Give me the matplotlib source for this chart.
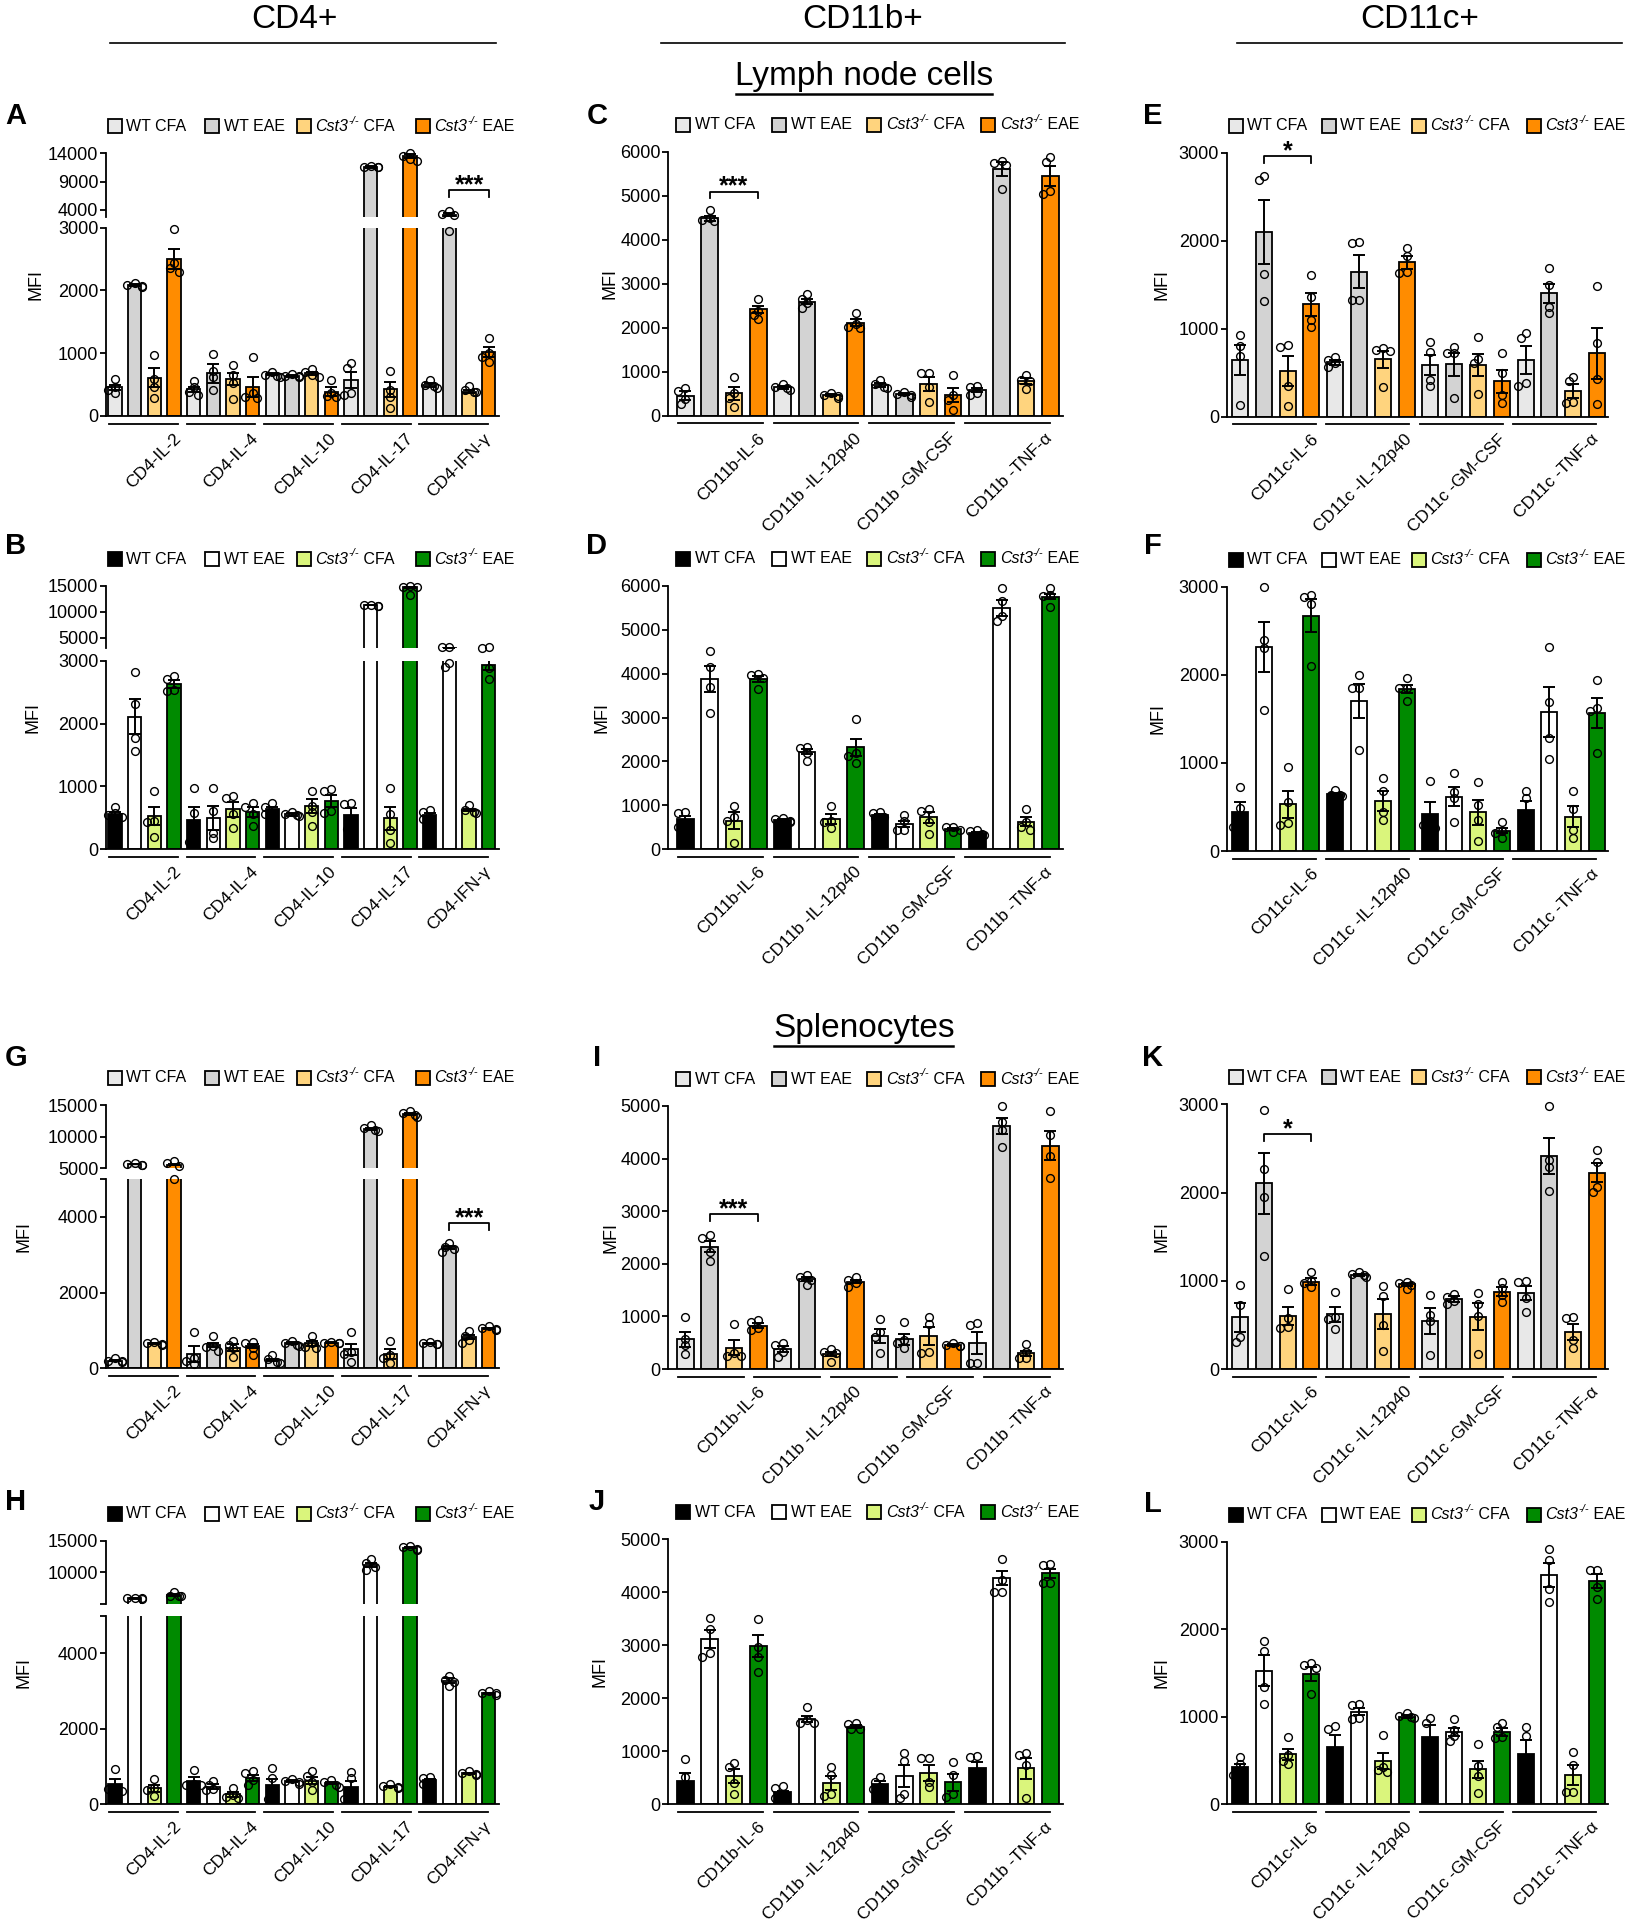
import numpy as np
import matplotlib.pyplot as plt
from matplotlib.patches import Rectangle

plt.rcParams["font.family"] = ["Liberation Sans", "DejaVu Sans"]

W, H = 1642, 1920

# groups and labels (Cst3 name is split into italic gene + superscript)
groups = [("WT CFA", None), ("WT EAE", None), ("Cst3", " CFA"), ("Cst3", " EAE")]
cd4_labels = ["CD4-IL-2", "CD4-IL-4", "CD4-IL-10", "CD4-IL-17", "CD4-IFN-γ"]
cd11b_labels = ["CD11b-IL-6", "CD11b -IL-12p40", "CD11b -GM-CSF", "CD11b -TNF-α"]
cd11c_labels = ["CD11c-IL-6", "CD11c -IL-12p40", "CD11c -GM-CSF", "CD11c -TNF-α"]

orange_cols = ["#e8e8e8", "#d3d3d3", "#ffd47e", "#ff8c00"]
green_cols = ["#000000", "#ffffff", "#daf57c", "#008a00"]

# ---- Lymph node cells ----
A_mean = [[457, 2087, 611, 2501], [425, 680, 584, 467], [669, 637, 680, 388],
          [573, 11633, 425, 13523], [494, 3200, 388, 1025]]
A_sem = [[40, 15, 150, 160], [35, 150, 95, 160], [20, 10, 20, 70],
         [130, 150, 120, 300], [25, 250, 20, 80]]
A_pts = [
    [[584, 467, 414, 361], [2113, 2087, 2071, 2060], [972, 584, 467, 292], [2974, 2432, 2352, 2299]],
    [[558, 457, 388, 335], [982, 720, 620, 420], [812, 648, 520, 271], [935, 361, 308, 292]],
    [[706, 653, 637, 627], [669, 640, 630, 620], [743, 706, 653, 627], [573, 372, 318, 308]],
    [[850, 770, 361, 335], [11800, 11600, 11500, 11500], [717, 414, 308, 122], [14000, 13600, 13000, 12650]],
    [[573, 494, 470, 441], [3800, 3300, 3100, 2950], [478, 414, 390, 380], [1237, 998, 945, 866]],
]

B_mean = [[556, 2109, 530, 2629], [466, 493, 636, 599], [636, 556, 694, 768],
          [546, 11346, 493, 14870], [546, 3050, 625, 2931]]
B_sem = [[30, 280, 150, 60], [200, 190, 120, 80], [40, 25, 110, 100],
         [110, 80, 180, 200], [30, 90, 20, 80]]
B_pts = [
    [[680, 570, 545, 520], [2814, 2305, 1775, 1563], [927, 450, 440, 191], [2756, 2708, 2533, 2518]],
    [[980, 570, 200, 120], [980, 610, 265, 175], [848, 811, 556, 334], [731, 678, 556, 371]],
    [[731, 678, 570, 560], [599, 560, 540, 530], [927, 694, 599, 371], [959, 927, 610, 572]],
    [[742, 715, 400, 330], [11400, 11300, 11200, 11100], [980, 556, 307, 95], [14950, 14900, 14850, 13300]],
    [[625, 599, 500, 480], [3250, 3250, 2970, 2900], [705, 625, 600, 580], [3200, 3010, 2878, 2708]],
]

C_mean = [[455, 4485, 508, 2417], [644, 2591, 470, 2114], [697, 492, 720, 470], [583, 5606, 788, 5447]]
C_sem = [[100, 50, 140, 80], [30, 60, 20, 80], [40, 20, 160, 160], [40, 150, 60, 220]]
C_pts = [
    [[620, 560, 380, 270], [4670, 4500, 4450, 4420], [886, 508, 394, 205], [2644, 2386, 2288, 2197]],
    [[712, 650, 630, 583], [2758, 2644, 2553, 2439], [508, 475, 450, 394], [2341, 2083, 2023, 2000]],
    [[811, 720, 659, 621], [545, 500, 470, 432], [962, 962, 644, 303], [924, 470, 356, 129]],
    [[674, 644, 508, 470], [5790, 5750, 5700, 5150], [924, 811, 790, 598], [5871, 5773, 5114, 5038]],
]

D_mean = [[683, 3876, 652, 3876], [667, 2222, 683, 2321], [781, 576, 728, 463], [379, 5484, 630, 5749]]
D_sem = [[80, 300, 200, 60], [15, 60, 110, 200], [20, 60, 120, 30], [20, 180, 100, 60]]
D_pts = [
    [[857, 819, 550, 500], [4513, 4157, 3686, 3095], [994, 728, 652, 137], [3982, 3967, 3900, 3648]],
    [[705, 690, 640, 630], [2336, 2298, 2184, 2018], [994, 645, 614, 478], [2966, 2184, 2131, 1972]],
    [[842, 835, 730, 720], [781, 652, 440, 440], [918, 872, 630, 349], [516, 500, 440, 387]],
    [[440, 417, 340, 330], [5954, 5651, 5310, 5196], [918, 614, 516, 440], [5954, 5788, 5765, 5522]],
]

E_mean = [[644, 2095, 519, 1277], [617, 1648, 652, 1754], [587, 598, 587, 405], [644, 1402, 292, 720]]
E_sem = [[170, 365, 170, 130], [25, 190, 100, 70], [110, 130, 130, 130], [160, 110, 80, 290]]
E_pts = [
    [[928, 803, 689, 133], [2739, 2689, 1621, 1318], [814, 795, 348, 125], [1610, 1364, 1099, 1023]],
    [[674, 644, 606, 568], [1989, 1970, 1326, 1326], [777, 758, 750, 333], [1921, 1826, 1640, 1629]],
    [[852, 739, 417, 348], [788, 720, 720, 208], [902, 652, 606, 258], [720, 500, 246, 152]],
    [[955, 898, 379, 348], [1686, 1496, 1250, 1174], [455, 409, 163, 159], [1485, 841, 424, 140]],
]

F_mean = [[446, 2319, 530, 2671], [647, 1706, 567, 1838], [420, 617, 439, 231], [465, 1581, 390, 1562]]
F_sem = [[110, 285, 150, 190], [10, 195, 110, 45], [140, 110, 140, 30], [100, 285, 120, 170]]
F_pts = [
    [[730, 484, 300, 270], [2992, 2395, 2300, 1600], [957, 560, 320, 300], [2905, 2886, 2803, 2100]],
    [[692, 640, 630, 625], [1997, 1846, 1846, 1146], [825, 681, 446, 352], [1960, 1854, 1846, 1702]],
    [[798, 320, 300, 260], [881, 673, 598, 333], [779, 522, 352, 113], [325, 227, 200, 144]],
    [[681, 605, 330, 250], [2311, 1695, 1279, 1040], [681, 477, 238, 151], [1941, 1619, 1589, 1108]],
]

# ---- Splenocytes ----
G_mean = [[202, 5684, 659, 5550], [378, 615, 545, 589], [220, 659, 659, 677],
          [501, 11210, 378, 13579], [659, 3191, 835, 1055]]
G_sem = [[20, 50, 15, 60], [200, 60, 90, 60], [30, 30, 60, 15],
         [150, 100, 120, 150], [20, 40, 50, 20]]
G_pts = [
    [[264, 200, 180, 160], [5900, 5750, 5600, 5450], [703, 677, 650, 610], [6100, 5800, 5300, 5000]],
    [[967, 260, 180, 110], [850, 600, 560, 460], [720, 620, 530, 310], [703, 677, 527, 352]],
    [[352, 237, 176, 132], [730, 659, 620, 590], [853, 659, 571, 527], [700, 680, 665, 660]],
    [[967, 440, 378, 176], [11800, 11300, 11100, 10900], [730, 352, 264, 132], [14050, 13750, 13400, 13100]],
    [[690, 670, 645, 630], [3314, 3210, 3140, 3077], [985, 853, 747, 659], [1116, 1060, 1030, 1010]],
]

H_mean = [[530, 5895, 424, 6421], [618, 468, 265, 689], [512, 618, 627, 556],
          [468, 11158, 468, 13895], [645, 3276, 821, 2940]]
H_sem = [[130, 40, 90, 120], [100, 60, 60, 80], [150, 30, 100, 30],
         [160, 300, 20, 80], [30, 60, 20, 20]]
H_pts = [
    [[936, 430, 400, 350], [5950, 5900, 5880, 5850], [671, 420, 380, 230], [6900, 6300, 6250, 6200]],
    [[909, 550, 510, 500], [618, 512, 406, 380], [442, 250, 200, 160], [883, 821, 645, 512]],
    [[971, 689, 250, 150], [671, 620, 600, 530], [883, 751, 583, 380], [645, 583, 512, 468]],
    [[848, 689, 200, 140], [12105, 11421, 10895, 10368], [530, 480, 450, 420], [14200, 14050, 13700, 13600]],
    [[733, 706, 560, 540], [3400, 3300, 3250, 3143], [883, 821, 800, 780], [3002, 2960, 2940, 2900]],
]

I_mean = [[564, 2326, 406, 824], [374, 1705, 285, 1660], [627, 564, 627, 456], [488, 4620, 298, 4246]]
I_sem = [[140, 100, 140, 50], [60, 40, 40, 30], [130, 110, 180, 20], [210, 160, 50, 280]]
I_pts = [
    [[995, 564, 456, 285], [2547, 2484, 2231, 2060], [849, 298, 247, 247], [932, 900, 773, 741]],
    [[488, 456, 330, 230], [1787, 1755, 1692, 1597], [374, 330, 298, 139], [1755, 1692, 1629, 1565]],
    [[944, 710, 615, 311], [900, 551, 488, 393], [995, 855, 330, 298], [488, 456, 440, 430]],
    [[881, 837, 120, 108], [5000, 4702, 4544, 4214], [475, 330, 203, 203], [4905, 4449, 4049, 3625]],
]

J_mean = [[447, 3113, 535, 2987], [226, 1604, 396, 1465], [384, 535, 597, 415], [679, 4264, 679, 4358]]
J_sem = [[150, 170, 140, 200], [30, 60, 130, 30], [50, 210, 150, 160], [120, 130, 200, 90]]
J_pts = [
    [[849, 522, 250, 170], [3509, 3302, 2849, 2786], [786, 711, 396, 195], [3490, 2975, 2786, 2503]],
    [[346, 302, 140, 120], [1843, 1591, 1528, 1528], [698, 553, 195, 157], [1528, 1510, 1430, 1415]],
    [[509, 428, 320, 280], [975, 824, 195, 113], [880, 868, 428, 321], [805, 553, 195, 145]],
    [[912, 887, 500, 420], [4622, 4233, 4012, 4012], [962, 931, 742, 113], [4534, 4515, 4182, 4182]],
]

K_mean = [[586, 2104, 601, 990], [620, 1065, 620, 960], [544, 793, 593, 877], [858, 2414, 423, 2225]]
K_sem = [[165, 345, 105, 40], [85, 15, 170, 20], [145, 30, 155, 50], [80, 200, 90, 110]]
K_pts = [
    [[952, 725, 359, 310], [2936, 2263, 1953, 1281], [907, 574, 472, 461], [1096, 1001, 971, 933]],
    [[877, 593, 563, 450], [1103, 1080, 1060, 1039], [941, 827, 499, 204], [990, 975, 950, 903]],
    [[839, 612, 548, 159], [850, 820, 774, 737], [865, 740, 600, 170], [990, 920, 840, 760]],
    [[1001, 990, 801, 650], [2981, 2369, 2293, 2021], [593, 574, 329, 234], [2482, 2350, 2059, 2010]],
]

L_mean = [[430, 1527, 571, 1489], [651, 1058, 495, 1001], [765, 830, 400, 830], [575, 2619, 335, 2555]]
L_sem = [[35, 175, 65, 85], [135, 40, 90, 15], [140, 45, 100, 45], [160, 140, 110, 80]]
L_pts = [
    [[544, 461, 370, 340], [1869, 1755, 1344, 1143], [765, 560, 500, 460], [1610, 1591, 1553, 1260]],
    [[895, 857, 450, 400], [1146, 1134, 982, 971], [792, 430, 390, 370], [1047, 1010, 995, 985]],
    [[982, 933, 650, 500], [971, 850, 780, 720], [689, 438, 324, 133], [933, 879, 773, 754]],
    [[879, 780, 400, 240], [2916, 2791, 2456, 2315], [602, 449, 145, 145], [2676, 2676, 2486, 2341]],
]


fig = plt.figure(figsize=(W / 100, H / 100), dpi=100)

# overlay in pixel coordinates (y down) for headers, legends and labels
ov = fig.add_axes([0, 0, 1, 1])
ov.set_xlim(0, W)
ov.set_ylim(H, 0)
ov.axis("off")

LW = 1.3


def spread(ypx, step_px, d=7.5):
    """Nudge overlapping dots sideways, column-scatter style."""
    placed, out = [], []
    for y in ypx:
        for k in (0, -1, 1, -1.6, 1.6):
            x = k * d * 0.6
            if all((x - a) ** 2 + (y - b) ** 2 >= (0.75 * d) ** 2 for a, b in placed):
                break
        placed.append((x, y))
        out.append(x / step_px)
    return out


def legend_entry(x, y, col, name):
    ov.add_patch(Rectangle((x, y - 7), 14, 14, facecolor=col, edgecolor="black", lw=LW))
    if name[1] is None:
        ov.text(x + 18.5, y, name[0], ha="left", va="center", fontsize=11.5)
        return
    t1 = ov.text(x + 18.5, y, name[0], ha="left", va="center", fontsize=11.5, style="italic")
    t2 = ov.annotate("-/-", xy=(1, 0.55), xycoords=t1, ha="left", va="bottom",
                     fontsize=8, style="italic")
    ov.annotate(name[1], xy=(1, 0), xycoords=(t2, t1), ha="left", va="bottom", fontsize=11.5)


def draw_panel(letter, letter_xy, means, sems, pts, labels, cols, left, right,
               first, step, segs, mfi_x, leg_dx, n_lines=None, sig=None):
    n = len(means) * 4
    mean = np.ravel(means)
    sem = np.ravel(sems)
    dots = [g for cat in pts for g in cat]
    xs = np.arange(n)
    colors = cols * len(means)
    xlim = ((left - first) / step, (right - first) / step)

    axes = []
    for i, seg in enumerate(segs):
        bot, top, lo, hi, ticks = seg[:5]
        tlabels = seg[5] if len(seg) > 5 else [str(t) for t in ticks]
        ax = fig.add_axes([left / W, 1 - bot / H, (right - left) / W, (bot - top) / H])
        ax.set_xlim(*xlim)
        ax.set_ylim(lo, hi)
        ax.bar(xs, mean, width=0.68, color=colors, edgecolor="black", linewidth=LW, zorder=2)
        ax.set_yticks(ticks)
        ax.set_yticklabels(tlabels)
        ax.tick_params(axis="y", length=4.5, width=LW, labelsize=13, pad=1)
        ax.tick_params(axis="x", bottom=False, labelbottom=False)
        ax.spines[["top", "right"]].set_visible(False)
        ax.spines["left"].set_linewidth(LW)
        if i == 0:
            ax.spines["bottom"].set_linewidth(LW)
        else:
            ax.spines["bottom"].set_visible(False)
        ax.patch.set_visible(False)
        axes.append((ax, bot, top, lo, hi))

    def locate(v):
        for a in axes:
            if a[3] <= v <= a[4]:
                return a
        below = [a for a in axes if a[4] < v]
        return max(below, key=lambda a: a[4]) if below else axes[0]

    def to_px(v):
        ax, bot, top, lo, hi = locate(v)
        return bot - (v - lo) * (bot - top) / (hi - lo)

    for x, mv, sv, vals in zip(xs, mean, sem, dots):
        locate(mv)[0].errorbar(x, mv, yerr=sv, fmt="none", ecolor="black", elinewidth=1.4,
                               capsize=4, capthick=1.4, zorder=3)
        offs = spread([to_px(v) for v in vals], step)
        for v, o in zip(vals, offs):
            locate(v)[0].plot(x + o, v, "o", ms=5.6, mfc="none", mec="black", mew=1.0,
                              zorder=4, clip_on=False)

    # significance bracket
    if sig is not None:
        si, i0, i1, yl, yg, yt, txt = sig
        ax = axes[si][0]
        ax.plot([i0, i0, i1, i1], [yg, yl, yl, yg], color="black", lw=LW, clip_on=False, zorder=5)
        ax.text((i0 + i1) / 2, yt, txt, ha="center", va="baseline", fontsize=18,
                fontweight="bold", clip_on=False)

    # group underlines and rotated labels
    base = segs[0][0]

    def seg_ends(k_count):
        start, end = -0.3, n - 0.58
        L = (end - start) / k_count
        return [(start + k * L, start + k * L + L - 0.45) for k in range(k_count)]

    for a, b in seg_ends(n_lines or len(means)):
        ov.plot([first + a * step, first + b * step], [base + 7.5] * 2, color="black", lw=LW)
    for (a, b), lab in zip(seg_ends(len(labels)), labels):
        ov.text(first + b * step - 5, base + 15, lab, rotation=45, ha="right", va="top",
                rotation_mode="anchor", fontsize=12.5)

    # legend
    top_px = segs[-1][1]
    ly = top_px - 27
    for dx, col, name in zip(leg_dx, cols, groups):
        legend_entry(left + dx, ly, col, name)

    ov.text(mfi_x, (base + top_px) / 2, "MFI", rotation=90, ha="center", va="center", fontsize=13)
    ov.text(letter_xy[0], letter_xy[1], letter, ha="center", va="center", fontsize=21,
            fontweight="bold")


col0 = dict(left=106, right=499, first=115, step=19.67, leg_dx=[2, 99, 191, 310])
col1 = dict(left=668.3, right=1063, first=685.3, step=24.33, leg_dx=[8, 104, 199, 313])
col2 = dict(left=1226.7, right=1608.3, first=1240, step=23.8, leg_dx=[2, 95, 185, 300])

t3 = [0, 1000, 2000, 3000]
t5 = [0, 1000, 2000, 3000, 4000, 5000]
t6 = [0, 1000, 2000, 3000, 4000, 5000, 6000]

draw_panel("A", (16, 116), A_mean, A_sem, A_pts, cd4_labels, orange_cols,
           segs=[(416, 227.7, 0, 3000, t3), (216.7, 153.3, 2816, 14000, [4000, 9000, 14000])],
           mfi_x=36, sig=(1, 17, 19, 7526, 6344, 7050, "***"), **col0)
draw_panel("B", (16, 546), B_mean, B_sem, B_pts, cd4_labels, green_cols,
           segs=[(849.3, 660.7, 0, 3000, t3), (648.3, 586, 3000, 15000, [5000, 10000, 15000])],
           mfi_x=33, **col0)
draw_panel("C", (597, 116), C_mean, C_sem, C_pts, cd11b_labels, orange_cols,
           segs=[(415.7, 151.7, 0, 6000, t6)], mfi_x=610,
           sig=(0, 1, 3, 5091, 4940, 5055, "***"), **col1)
draw_panel("D", (597, 546), D_mean, D_sem, D_pts, cd11b_labels, green_cols,
           segs=[(849.3, 585.7, 0, 6000, t6)], mfi_x=602, **col1)
draw_panel("E", (1153, 116), E_mean, E_sem, E_pts, cd11c_labels, orange_cols,
           segs=[(416.7, 152.7, 0, 3000, t3)], mfi_x=1162,
           sig=(0, 1, 3, 2962, 2886, 2936, "*"), **col2)
draw_panel("F", (1153, 546), F_mean, F_sem, F_pts, cd11c_labels, green_cols,
           segs=[(851, 586.7, 0, 3000, t3)], mfi_x=1158, **col2)

draw_panel("G", (16, 1058), G_mean, G_sem, G_pts, cd4_labels, orange_cols,
           segs=[(1368.3, 1179, 0, 5000, [0, 2000, 4000, 5000], ["0", "2000", "4000", ""]),
                 (1168.3, 1105, 5000, 15000, [5000, 10000, 15000])],
           mfi_x=24, sig=(0, 17, 19, 3842, 3649, 3781, "***"), **col0)
draw_panel("H", (16, 1502), H_mean, H_sem, H_pts, cd4_labels, green_cols,
           segs=[(1804.3, 1615.7, 0, 5000, [0, 2000, 4000, 5000], ["0", "2000", "4000", ""]),
                 (1604, 1540.7, 5000, 15000, [5000, 10000, 15000], ["", "10000", "15000"])],
           mfi_x=24, **col0)
draw_panel("I", (597, 1058), I_mean, I_sem, I_pts, cd11b_labels, orange_cols,
           segs=[(1369, 1106, 0, 5000, t5)], mfi_x=611, n_lines=5,
           sig=(0, 1, 3, 2941, 2814, 2909, "***"), **col1)
draw_panel("J", (597, 1502), J_mean, J_sem, J_pts, cd11b_labels, green_cols,
           segs=[(1804.3, 1539.3, 0, 5000, t5)], mfi_x=600, **col1)
draw_panel("K", (1153, 1058), K_mean, K_sem, K_pts, cd11c_labels, orange_cols,
           segs=[(1369, 1104.3, 0, 3000, t3)], mfi_x=1162,
           sig=(0, 1, 3, 2663, 2588, 2633, "*"), **col2)
draw_panel("L", (1153, 1504), L_mean, L_sem, L_pts, cd11c_labels, green_cols,
           segs=[(1804.3, 1541.7, 0, 3000, t3)], mfi_x=1162, **col2)

# column headers and section titles
for name, cx, x0, x1 in [("CD4+", 294, 110, 496), ("CD11b+", 863, 661, 1065),
                         ("CD11c+", 1420, 1237, 1622)]:
    ov.text(cx, 20, name, ha="center", va="center", fontsize=24)
    ov.plot([x0, x1], [43, 43], color="black", lw=1.2)

ov.text(864, 77, "Lymph node cells", ha="center", va="center", fontsize=24)
ov.plot([736, 992], [94, 94], color="black", lw=1.8)
ov.text(864, 1029, "Splenocytes", ha="center", va="center", fontsize=24)
ov.plot([774, 953], [1046, 1046], color="black", lw=1.8)

fig.savefig("out.png", dpi=100)
